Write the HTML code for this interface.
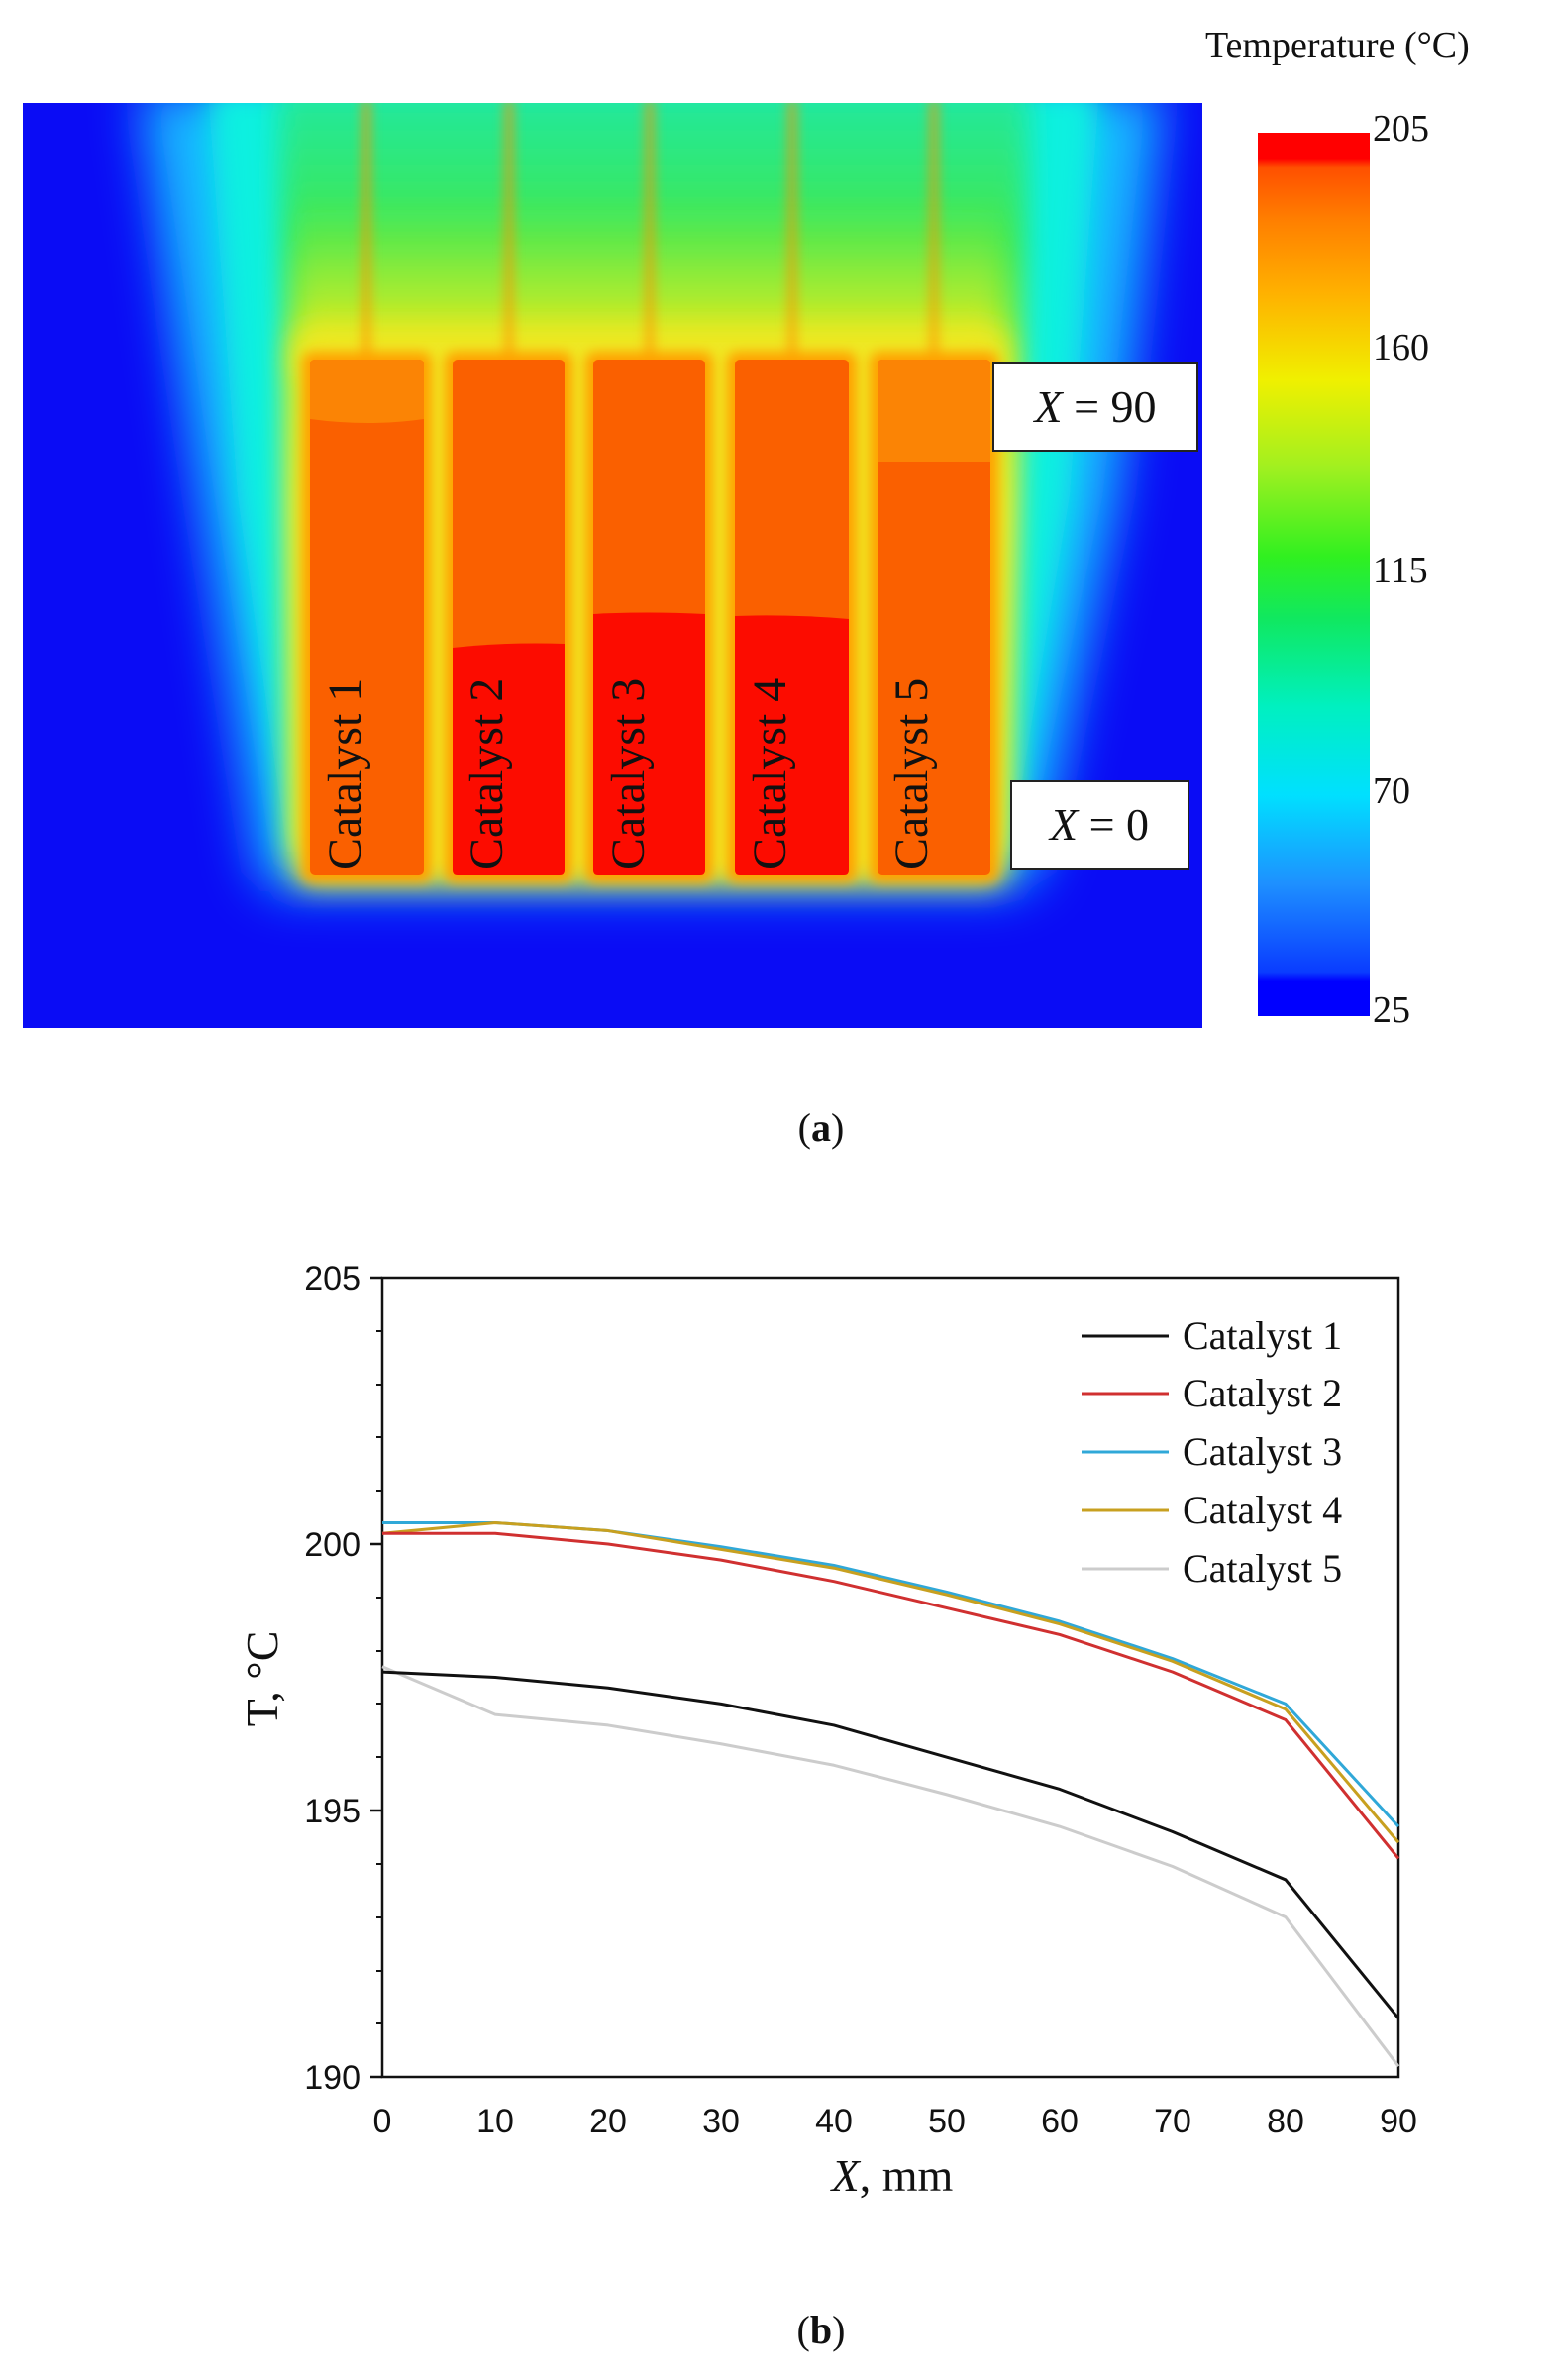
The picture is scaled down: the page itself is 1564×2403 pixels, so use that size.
<!DOCTYPE html>
<html><head><meta charset="utf-8"><style>
html,body{margin:0;padding:0;background:#fff;}
svg{display:block}
text{font-family:"Liberation Serif",serif;fill:#111}
.s{font-family:"Liberation Sans",sans-serif}
</style></head><body>
<svg width="1564" height="2403" viewBox="0 0 1564 2403" xmlns="http://www.w3.org/2000/svg">
<defs>
<filter id="b1" x="-20%" y="-20%" width="140%" height="140%"><feGaussianBlur stdDeviation="25"/></filter>
<filter id="b2" x="-20%" y="-20%" width="140%" height="140%"><feGaussianBlur stdDeviation="14"/></filter>
<filter id="b3" x="-20%" y="-20%" width="140%" height="140%"><feGaussianBlur stdDeviation="6"/></filter>
<clipPath id="hm"><rect x="23" y="104" width="1191" height="934"/></clipPath>
<linearGradient id="cb" x1="0" y1="1" x2="0" y2="0">
<stop offset="0" stop-color="#0000ff"/><stop offset="0.04" stop-color="#0000ff"/>
<stop offset="0.05" stop-color="#0a3cff"/><stop offset="0.15" stop-color="#1e90ff"/>
<stop offset="0.25" stop-color="#00e0ff"/><stop offset="0.35" stop-color="#00f0c0"/>
<stop offset="0.45" stop-color="#10e860"/><stop offset="0.52" stop-color="#30f020"/>
<stop offset="0.62" stop-color="#a0f020"/><stop offset="0.72" stop-color="#f0f000"/>
<stop offset="0.82" stop-color="#ffb000"/><stop offset="0.9" stop-color="#ff8000"/>
<stop offset="0.96" stop-color="#ff5000"/><stop offset="0.97" stop-color="#ff0000"/><stop offset="1" stop-color="#ff0000"/>
</linearGradient>
<linearGradient id="fld" x1="0" y1="0" x2="0" y2="1">
<stop offset="0" stop-color="#20e8a0"/><stop offset="0.2" stop-color="#40e850"/>
<stop offset="0.4" stop-color="#a0f030"/><stop offset="0.55" stop-color="#e8f020"/><stop offset="1" stop-color="#e8f020"/>
</linearGradient>
<linearGradient id="yl" x1="0" y1="0" x2="0" y2="1">
<stop offset="0" stop-color="#c0f030" stop-opacity="0"/><stop offset="1" stop-color="#f8e818"/>
</linearGradient>
</defs>
<g clip-path="url(#hm)">
<rect x="23" y="104" width="1191" height="934" fill="#0a0cf5"/>
<polygon points="140,90 1175,90 1130,500 1050,880 1020,900 280,900 260,880 200,500" fill="#18b8ff" filter="url(#b1)"/>
<polygon points="210,90 1110,90 1080,500 1020,860 290,860 240,500" fill="#10f0e0" filter="url(#b2)"/>
<polygon points="280,90 1040,90 1030,400 1010,860 300,860 290,400" fill="url(#fld)" filter="url(#b2)"/>
<rect x="300" y="200" width="710" height="180" fill="url(#yl)" filter="url(#b2)"/>
<rect x="295" y="330" width="723" height="565" rx="20" fill="#f0e820" filter="url(#b2)"/>
<g stroke="#ff9010" stroke-width="6" filter="url(#b3)">
<line x1="370" y1="100" x2="370" y2="370"/><line x1="514" y1="100" x2="514" y2="370"/>
<line x1="656" y1="100" x2="656" y2="370"/><line x1="800" y1="100" x2="800" y2="370"/>
<line x1="943" y1="100" x2="943" y2="370"/></g>
<rect x="305" y="355" width="131" height="536" rx="10" fill="#ffa000" filter="url(#b3)"/>
<rect x="449" y="355" width="129" height="536" rx="10" fill="#ffa000" filter="url(#b3)"/>
<rect x="591" y="355" width="129" height="536" rx="10" fill="#ffa000" filter="url(#b3)"/>
<rect x="734" y="355" width="131" height="536" rx="10" fill="#ffa000" filter="url(#b3)"/>
<rect x="878" y="355" width="130" height="536" rx="10" fill="#ffa000" filter="url(#b3)"/>
<rect x="313" y="363" width="115" height="520" rx="5" fill="#fa6000"/>
<path d="M313,368 q0,-5 5,-5 h105 q5,0 5,5 v55 q-55,8 -115,0z" fill="#fb8405"/>
<rect x="457" y="363" width="113" height="520" rx="5" fill="#fa6000"/>
<path d="M457,654 q55,-6 113,-4 v228 q0,5 -5,5 h-103 q-5,0 -5,-5z" fill="#fc0c00"/>
<rect x="599" y="363" width="113" height="520" rx="5" fill="#fa6000"/>
<path d="M599,620 q55,-3 113,0 v258 q0,5 -5,5 h-103 q-5,0 -5,-5z" fill="#fc0c00"/>
<rect x="742" y="363" width="115" height="520" rx="5" fill="#fa6000"/>
<path d="M742,622 q55,-2 115,3 v253 q0,5 -5,5 h-105 q-5,0 -5,-5z" fill="#fc0c00"/>
<rect x="886" y="363" width="114" height="520" rx="5" fill="#fa6000"/>
<path d="M886,368 q0,-5 5,-5 h104 q5,0 5,5 v98 h-114z" fill="#fb8405"/>
</g>
<g font-size="48">
<text transform="translate(364,878) rotate(-90)">Catalyst 1</text>
<text transform="translate(507,878) rotate(-90)">Catalyst 2</text>
<text transform="translate(650,878) rotate(-90)">Catalyst 3</text>
<text transform="translate(793,878) rotate(-90)">Catalyst 4</text>
<text transform="translate(936,878) rotate(-90)">Catalyst 5</text>
</g>
<rect x="1003" y="367" width="206" height="88" fill="#fff" stroke="#222" stroke-width="2"/>
<text x="1106" y="426" font-size="46" text-anchor="middle"><tspan font-style="italic">X</tspan> = 90</text>
<rect x="1021" y="789" width="179" height="88" fill="#fff" stroke="#222" stroke-width="2"/>
<text x="1110" y="848" font-size="46" text-anchor="middle"><tspan font-style="italic">X</tspan> = 0</text>
<text x="1217" y="58" font-size="38">Temperature (°C)</text>
<rect x="1270" y="134" width="113" height="892" fill="url(#cb)"/>
<g font-size="38"><text x="1386" y="142">205</text><text x="1386" y="363">160</text><text x="1386" y="588">115</text><text x="1386" y="811">70</text><text x="1386" y="1032">25</text></g>
<text x="829" y="1152" font-size="40" text-anchor="middle">(<tspan font-weight="bold">a</tspan>)</text>
<rect x="386" y="1290" width="1026" height="807" fill="none" stroke="#111" stroke-width="2.5"/>
<g stroke="#111" stroke-width="2.5">
<line x1="374" y1="1290" x2="386" y2="1290"/><line x1="374" y1="1559" x2="386" y2="1559"/>
<line x1="374" y1="1828" x2="386" y2="1828"/><line x1="374" y1="2097" x2="386" y2="2097"/>
<g stroke-width="2">
<line x1="380" y1="1344" x2="386" y2="1344"/><line x1="380" y1="1398" x2="386" y2="1398"/><line x1="380" y1="1451" x2="386" y2="1451"/><line x1="380" y1="1505" x2="386" y2="1505"/>
<line x1="380" y1="1613" x2="386" y2="1613"/><line x1="380" y1="1667" x2="386" y2="1667"/><line x1="380" y1="1720" x2="386" y2="1720"/><line x1="380" y1="1774" x2="386" y2="1774"/>
<line x1="380" y1="1882" x2="386" y2="1882"/><line x1="380" y1="1936" x2="386" y2="1936"/><line x1="380" y1="1990" x2="386" y2="1990"/><line x1="380" y1="2043" x2="386" y2="2043"/>
</g>
</g>
<g font-size="34" text-anchor="end">
<text class="s" x="364" y="1302">205</text><text class="s" x="364" y="1571">200</text><text class="s" x="364" y="1840">195</text><text class="s" x="364" y="2109">190</text></g>
<g font-size="34" text-anchor="middle">
<text class="s" x="386" y="2153">0</text><text class="s" x="500" y="2153">10</text><text class="s" x="614" y="2153">20</text><text class="s" x="728" y="2153">30</text><text class="s" x="842" y="2153">40</text><text class="s" x="956" y="2153">50</text><text class="s" x="1070" y="2153">60</text><text class="s" x="1184" y="2153">70</text><text class="s" x="1298" y="2153">80</text><text class="s" x="1412" y="2153">90</text></g>
<text x="901" y="2212" font-size="46" text-anchor="middle"><tspan font-style="italic">X</tspan>, mm</text>
<text transform="translate(280,1695) rotate(-90)" font-size="46" text-anchor="middle">T, °C</text>
<g transform="matrix(11.4,0,0,-53.8,386,12319)" fill="none" stroke-linejoin="round">
<polyline vector-effect="non-scaling-stroke" stroke-width="3" stroke="#cccccc" points="0,197.7 10,196.8 20,196.6 30,196.25 40,195.85 50,195.3 60,194.7 70,193.95 80,193.0 90,190.2"/>
<polyline vector-effect="non-scaling-stroke" stroke-width="3" stroke="#111" points="0,197.6 10,197.5 20,197.3 30,197.0 40,196.6 50,196.0 60,195.4 70,194.6 80,193.7 90,191.1"/>
<polyline vector-effect="non-scaling-stroke" stroke-width="3" stroke="#30a8d8" points="0,200.4 10,200.4 20,200.25 30,199.95 40,199.6 50,199.1 60,198.55 70,197.85 80,197.0 90,194.7"/>
<polyline vector-effect="non-scaling-stroke" stroke-width="3" stroke="#c8a020" points="0,200.2 10,200.4 20,200.25 30,199.9 40,199.55 50,199.05 60,198.5 70,197.8 80,196.9 90,194.4"/>
<polyline vector-effect="non-scaling-stroke" stroke-width="3" stroke="#d03030" points="0,200.2 10,200.2 20,200.0 30,199.7 40,199.3 50,198.8 60,198.3 70,197.6 80,196.7 90,194.1"/>
</g>
<g stroke-width="3">
<line x1="1092" y1="1349" x2="1180" y2="1349" stroke="#111"/>
<line x1="1092" y1="1407" x2="1180" y2="1407" stroke="#d03030"/>
<line x1="1092" y1="1466" x2="1180" y2="1466" stroke="#30a8d8"/>
<line x1="1092" y1="1525" x2="1180" y2="1525" stroke="#c8a020"/>
<line x1="1092" y1="1584" x2="1180" y2="1584" stroke="#cccccc"/>
</g>
<g font-size="40">
<text x="1194" y="1362">Catalyst 1</text><text x="1194" y="1420">Catalyst 2</text><text x="1194" y="1479">Catalyst 3</text><text x="1194" y="1538">Catalyst 4</text><text x="1194" y="1597">Catalyst 5</text></g>
<text x="829" y="2366" font-size="40" text-anchor="middle">(<tspan font-weight="bold">b</tspan>)</text>
</svg>
</body></html>
